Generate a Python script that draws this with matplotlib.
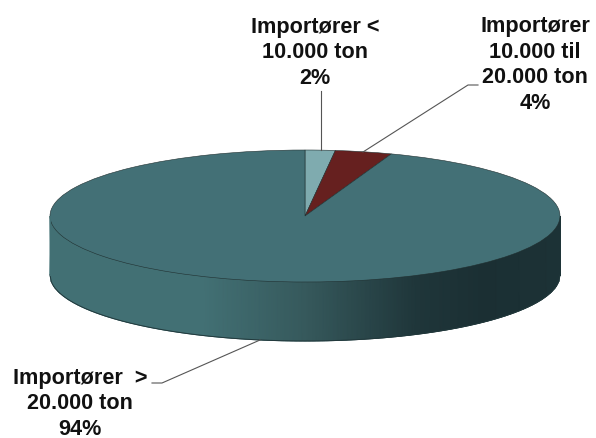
import matplotlib
matplotlib.use("Agg")
import matplotlib.pyplot as plt
import numpy as np
from matplotlib.colors import LinearSegmentedColormap
from matplotlib.lines import Line2D

labels = ["Importører <\n10.000 ton", "Importører\n10.000 til\n20.000 ton", "Importører  >\n20.000 ton"]
values = [1.9, 3.6, 94.5]
colors = ["#7fabaf", "#66201f", "#437076"]

W, H = 596, 439
CX, CY, RX, RY = 305, 217, 255, 66
DEPTH = 59


def px_fig(x, y):
    return x / W, 1 - y / H


def leader(xs, ys):
    pts = [px_fig(x, y) for x, y in zip(xs, ys)]
    fig.add_artist(Line2D([p[0] for p in pts], [p[1] for p in pts], color="#555555", lw=0.8))


def label(x, y, txt):
    fx, fy = px_fig(x, y)
    fig.text(fx, fy, txt, ha="center", va="center", fontsize=15.6, fontweight="bold",
             family="Liberation Sans", color="#111111", linespacing=1.29)


fig = plt.figure(figsize=(W / 100, H / 100), dpi=100)
ax = fig.add_axes([0, 0, 1, 1])

# side of the disc, shaded from left to right
side_cmap = LinearSegmentedColormap.from_list(
    "side", [(0, "#427074"), (0.3, "#427074"), (0.5, "#36595c"), (0.72, "#1f363a"), (0.85, "#1b2f33"), (1, "#1c3236")])
x = np.linspace(-1, 1, 400)
low = -np.sqrt(1 - x ** 2)
d = DEPTH / RY
ax.pcolormesh(np.vstack([x, x]), np.vstack([low - d, low]), np.vstack([x, x]),
              cmap=side_cmap, shading="gouraud", vmin=-1, vmax=1)
ax.plot(x, low - d, color="#22393c", lw=0.7)
ax.plot([-1, -1], [0, -d], color="#427074", lw=0.7)
ax.plot([1, 1], [0, -d], color="#1c3236", lw=0.7)

# pie top, made elliptical by the axes limits
ax.pie(values, colors=colors, startangle=90, counterclock=False, radius=1,
       wedgeprops={"edgecolor": "#1f2f30", "linewidth": 0.4})
ax.set_aspect("auto")
ax.set_xlim((0 - CX) / RX, (W - CX) / RX)
ax.set_ylim((CY - H) / RY, CY / RY)
ax.axis("off")

leader([321, 321], [151, 92])
leader([363, 468, 478], [153, 86, 86])
leader([260, 162, 152], [341, 384, 384])

label(315, 53, labels[0] + "\n%d%%" % round(values[0]))
label(535, 65, labels[1] + "\n%d%%" % round(values[1]))
label(80, 404, labels[2] + "\n%d%%" % round(values[2]))

fig.savefig("out.png", dpi=100)
